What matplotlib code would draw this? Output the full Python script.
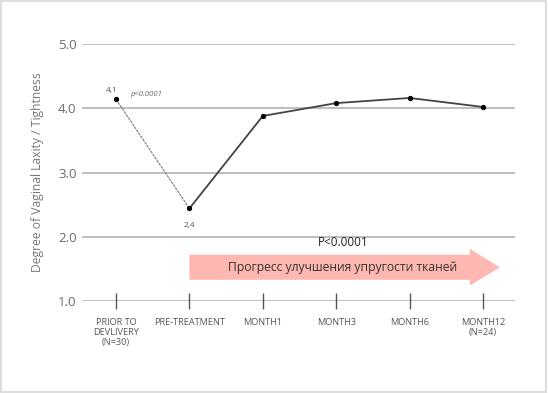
import numpy as np
import matplotlib.pyplot as plt
from matplotlib.patches import FancyArrow, Rectangle

# Dữ liệu
categories = ["PRIOR TO\nDEVLIVERY\n(N=30)", "PRE-TREATMENT", "MONTH1",
              "MONTH3", "MONTH6", "MONTH12\n(N=24)"]
values = [4.14, 2.44, 3.88, 4.08, 4.16, 4.02]
point_labels = {0: "4,1", 1: "2,4"}
y_ticks = [1.0, 2.0, 3.0, 4.0, 5.0]
y_ticklabels = ["1.0", "2.0", "3.0", "4.0", "5.0"]

plt.rcParams['font.family'] = ['Open Sans', 'DejaVu Sans']

fig = plt.figure(figsize=(5.48, 3.93), dpi=100)
ax = fig.add_axes([82 / 548, 1 - 301 / 393, 433 / 548, 257 / 393])

x = np.arange(len(categories))

# Lưới ngang
for yv in y_ticks:
    ax.axhline(yv, color='#bdbdbd', linewidth=1.4, zorder=1)

# Đoạn nét đứt đầu tiên, phần còn lại nét liền
ax.plot(x[:2], values[:2], color='#7a7a7a', linewidth=0.8,
        linestyle=(0, (2.5, 0.8)), zorder=3)
ax.plot(x[1:], values[1:], color='#444444', linewidth=1.3, zorder=3)
ax.plot(x, values, 'o', color='black', markersize=2.8, zorder=4)

ax.annotate(point_labels[0], (x[0], values[0]), xytext=(-7, 5),
            textcoords='offset points', fontsize=6, color='#555555')
ax.annotate(point_labels[1], (x[1], values[1]), xytext=(-4, -13),
            textcoords='offset points', fontsize=6, color='#555555')
ax.annotate("p<0.0001", (x[0], values[0]), xytext=(10, 2.5),
            textcoords='offset points', fontsize=5.5, color='#666666',
            style='italic')

# Mũi tên hồng
arrow = FancyArrow(1, 1.525, 4.23, 0, width=0.39, head_width=0.57,
                   head_length=0.41, length_includes_head=True,
                   color='#ffb8b1', linewidth=0, zorder=2)
ax.add_patch(arrow)
ax.text(3.09, 1.52, "Прогресс улучшения упругости тканей", ha='center',
        va='center', fontsize=8.7, color='#333333', zorder=5)
ax.text(3.09, 1.91, "P<0.0001", ha='center', va='center', fontsize=8.5,
        color='#222222', zorder=5)

ax.set_xlim(-0.463, 5.436)
ax.set_ylim(1.0, 5.0)
ax.set_yticks(y_ticks)
ax.set_yticklabels(y_ticklabels, fontsize=9.5, color='#6a6a6a')
ax.tick_params(axis='y', length=0, pad=4)
ax.set_xticks(x)
ax.set_xticklabels(categories, fontsize=6.6, color='#555555', va='top',
                   linespacing=1.15)
ax.tick_params(axis='x', direction='inout', length=11, width=1,
               color='#555555', pad=7)
for s in ax.spines.values():
    s.set_visible(False)
ax.set_ylabel("Degree of Vaginal Laxity / Tightness", fontsize=8.7,
              color='#777777')
ax.yaxis.set_label_coords(-0.088, 0.5)

# Khung ngoài
fig.patches.append(Rectangle((0.002, 0.003), 0.995, 0.994,
                             transform=fig.transFigure, fill=False,
                             edgecolor='#dddddd', linewidth=1.5))

fig.savefig("out.png", dpi=100)
